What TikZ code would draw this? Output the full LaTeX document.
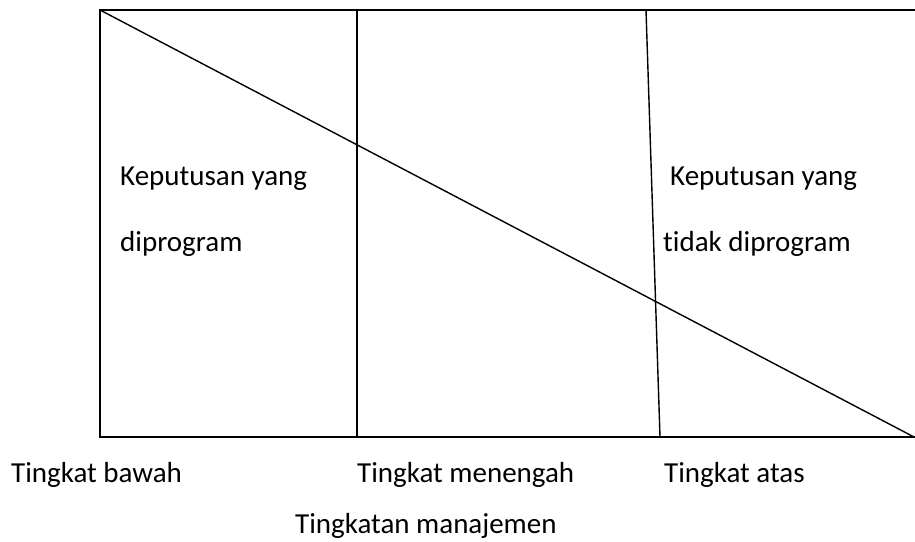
\documentclass[tikz,border=0pt]{standalone}
\usepackage{fontspec}
\setmainfont{Carlito}[Ligatures={NoCommon}]
\begin{document}
\begin{tikzpicture}[x=1pt,y=-1pt,
  lbl/.style={anchor=base west,inner sep=0pt,font=\fontsize{29}{34}\selectfont},
  ln/.style={line width=1.4pt,black}]
\useasboundingbox (0,0) rectangle (915,541);
\begin{scope}
\clip (0,0) rectangle (915,541);
\draw[ln] (100,10) rectangle (918,437);
\draw[ln] (357,10) -- (357,437);
\draw[ln] (646,10) -- (660,437);
\draw[ln] (100,10) -- (914,437);
\end{scope}
\node[lbl] (k1) at (120,185) {Keputusan yang};
\node[lbl] (d1) at (120,251) {diprogram};
\node[lbl] (k2) at (670,185) {Keputusan yang};
\node[lbl] (d2) at (663,251) {tidak diprogram};
\node[lbl] (tb) at (11,482) {Tingkat bawah};
\node[lbl] (tm) at (357,482) {Tingkat menengah};
\node[lbl] (ta) at (664,482) {Tingkat atas};
\node[lbl] (tman) at (295,533) {Tingkatan manajemen};
\end{tikzpicture}
\end{document}
